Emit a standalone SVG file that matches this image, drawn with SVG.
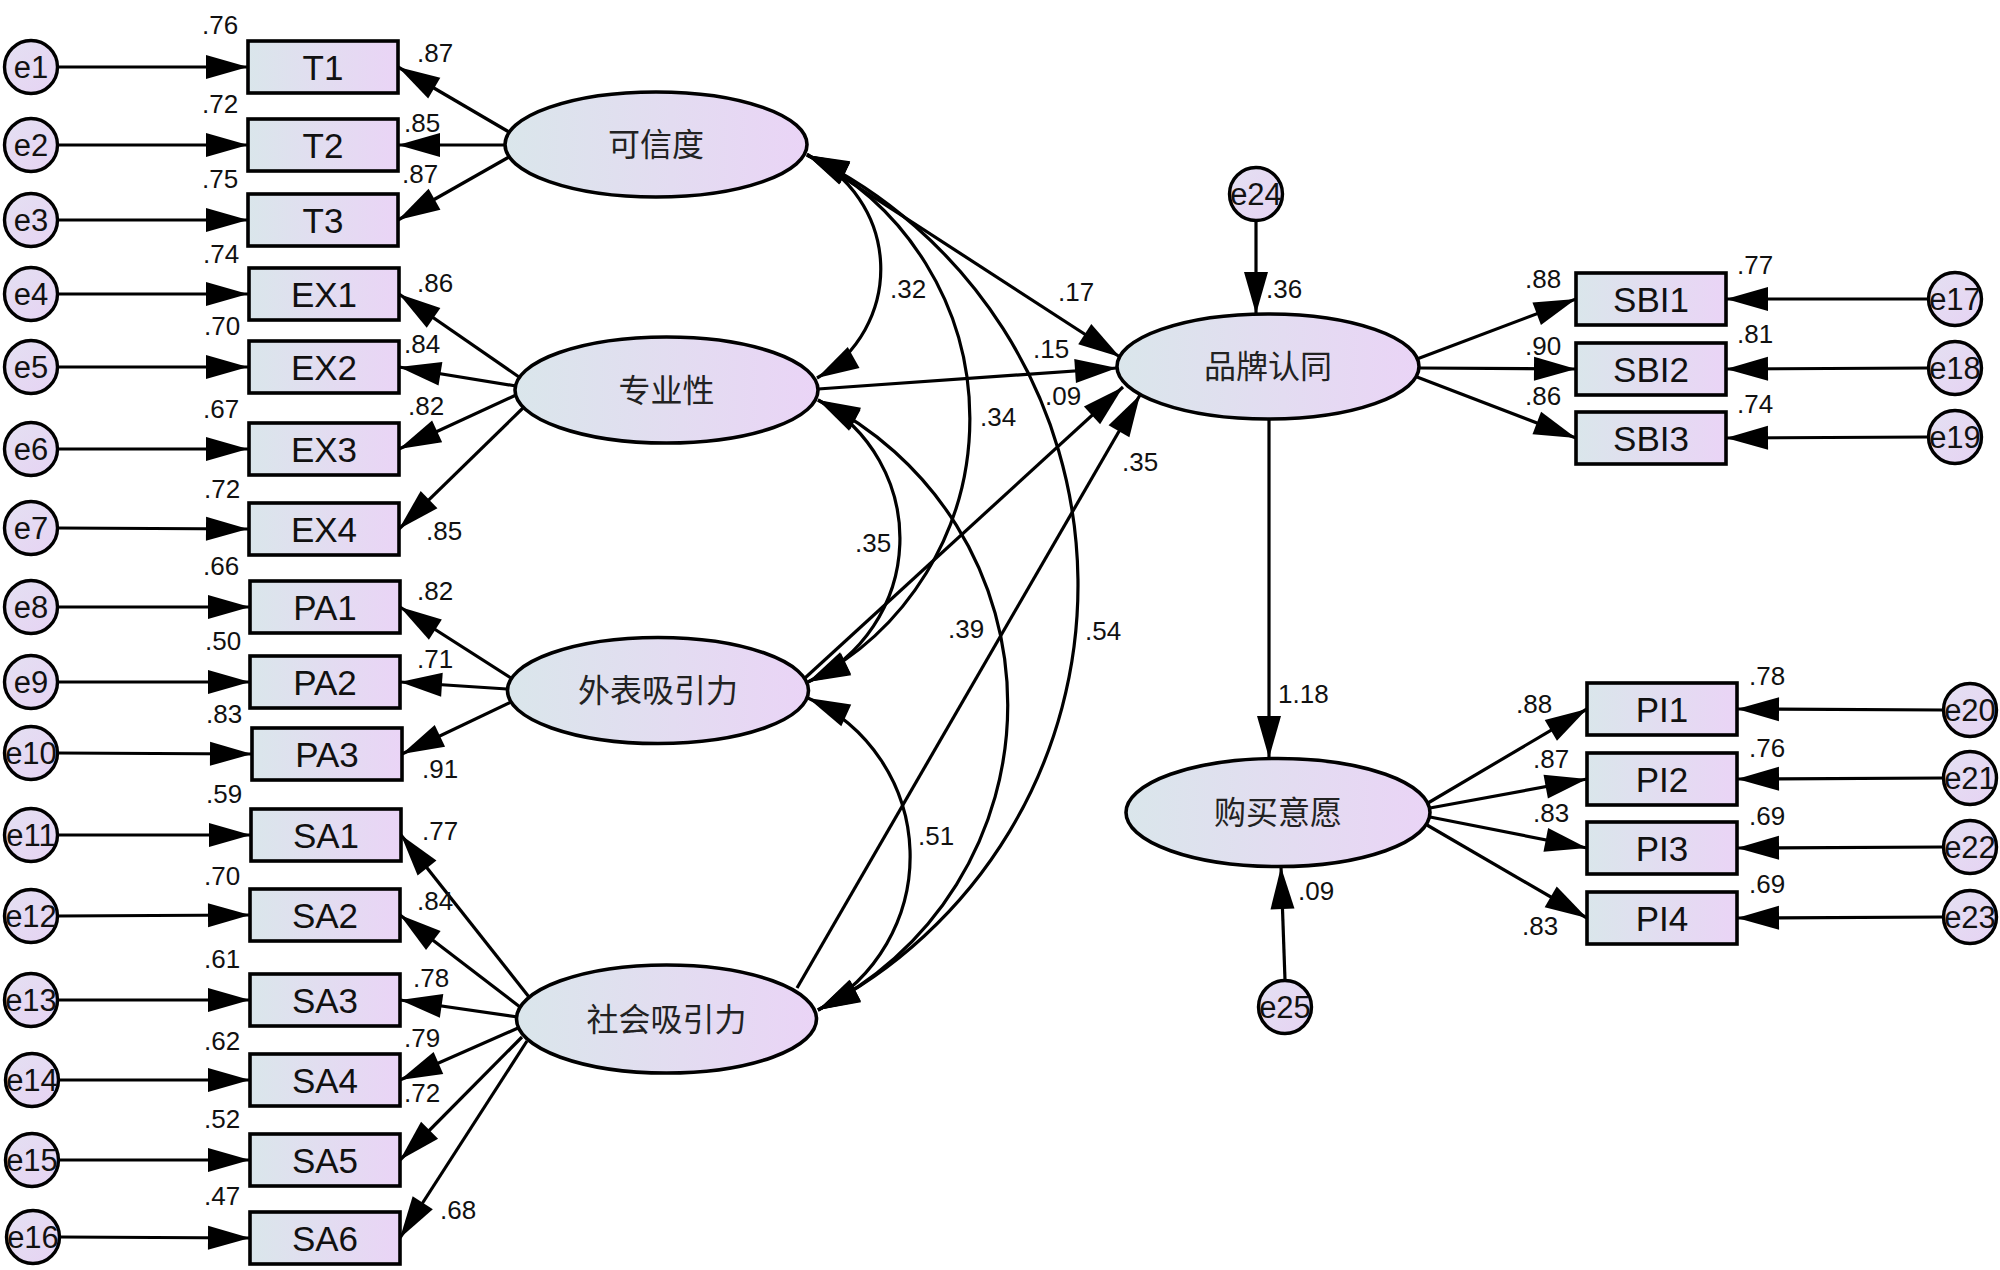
<svg xmlns="http://www.w3.org/2000/svg" width="2000" height="1270" viewBox="0 0 2000 1270">
<defs>
<linearGradient id="gFill" x1="0" y1="0" x2="1" y2="0">
<stop offset="0" stop-color="#dae6eb"/>
<stop offset="0.55" stop-color="#e3dcf1"/>
<stop offset="1" stop-color="#ead4f6"/>
</linearGradient>
<linearGradient id="gErr" x1="0" y1="0" x2="1" y2="1">
<stop offset="0" stop-color="#e4e0f2"/>
<stop offset="1" stop-color="#e6d3f3"/>
</linearGradient>
<marker id="ah" markerUnits="userSpaceOnUse" markerWidth="42" markerHeight="24" refX="42" refY="12" orient="auto" overflow="visible">
<path d="M0,0 L42,12 L0,24 Z" fill="#000"/>
</marker>
<marker id="ahs" markerUnits="userSpaceOnUse" markerWidth="42" markerHeight="24" refX="42" refY="12" orient="auto-start-reverse" overflow="visible">
<path d="M0,0 L42,12 L0,24 Z" fill="#000"/>
</marker>
</defs>
<style>
.c{fill:none;stroke:#000;stroke-width:3.2;marker-end:url(#ah);}
.cov{fill:none;stroke:#000;stroke-width:3.2;marker-start:url(#ahs);marker-end:url(#ahs);}
.box{fill:url(#gFill);stroke:#000;stroke-width:3.6;}
.lat{fill:url(#gFill);stroke:#000;stroke-width:3.6;}
.err{fill:url(#gErr);stroke:#000;stroke-width:3.4;}
.bt{font-family:"Liberation Sans",Arial,sans-serif;font-size:35px;fill:#111;text-anchor:middle;}
.et{font-family:"Liberation Sans",Arial,sans-serif;font-size:31px;fill:#111;text-anchor:middle;}
.lt{font-family:"Noto Sans CJK SC","Liberation Sans",sans-serif;font-size:32px;fill:#222;text-anchor:middle;}
.n{font-family:"Liberation Sans",Arial,sans-serif;font-size:26px;fill:#111;}
</style>
<rect x="0" y="0" width="2000" height="1270" fill="#fff"/>

<g id="connectors">
<line class="c" x1="57.5" y1="67" x2="248" y2="67"/>
<line class="c" x1="57.5" y1="145" x2="248" y2="145"/>
<line class="c" x1="57.5" y1="220" x2="248" y2="220"/>
<line class="c" x1="57.5" y1="294" x2="248" y2="294"/>
<line class="c" x1="57.5" y1="367" x2="248" y2="367"/>
<line class="c" x1="57.5" y1="449" x2="248" y2="449"/>
<line class="c" x1="57.5" y1="528" x2="248" y2="529"/>
<line class="c" x1="57.5" y1="607" x2="250" y2="607"/>
<line class="c" x1="57.5" y1="682" x2="250" y2="682"/>
<line class="c" x1="57.5" y1="753" x2="252" y2="754"/>
<line class="c" x1="57.5" y1="835" x2="251" y2="835"/>
<line class="c" x1="57.5" y1="916" x2="250" y2="915"/>
<line class="c" x1="57.5" y1="1000" x2="250" y2="1000"/>
<line class="c" x1="58.5" y1="1080" x2="250" y2="1080"/>
<line class="c" x1="58.5" y1="1160" x2="250" y2="1160"/>
<line class="c" x1="59.5" y1="1237" x2="250" y2="1238"/>
<line class="c" x1="509" y1="132" x2="398" y2="67"/>
<line class="c" x1="505" y1="145" x2="398" y2="145"/>
<line class="c" x1="509" y1="157" x2="398" y2="220"/>
<line class="c" x1="519" y1="377" x2="399" y2="294"/>
<line class="c" x1="516" y1="386" x2="399" y2="367"/>
<line class="c" x1="516" y1="395" x2="399" y2="449"/>
<line class="c" x1="524" y1="407" x2="399" y2="529"/>
<line class="c" x1="511" y1="678" x2="400" y2="607"/>
<line class="c" x1="507" y1="689" x2="400" y2="682"/>
<line class="c" x1="511" y1="702" x2="402" y2="754"/>
<line class="c" x1="529" y1="997" x2="401" y2="835"/>
<line class="c" x1="520" y1="1007" x2="400" y2="915"/>
<line class="c" x1="518" y1="1017" x2="400" y2="1000"/>
<line class="c" x1="518" y1="1028" x2="400" y2="1080"/>
<line class="c" x1="522" y1="1037" x2="400" y2="1160"/>
<line class="c" x1="527" y1="1041" x2="400" y2="1238"/>
<path class="cov" d="M807,155 A125,125 0 0 1 817,378"/>
<path class="cov" d="M807,155 A295,295 0 0 1 808,682"/>
<path class="cov" d="M807,155 A477,477 0 0 1 818,1010"/>
<path class="cov" d="M818,400 A158,158 0 0 1 808,682"/>
<path class="cov" d="M818,400 A340,340 0 0 1 818,1010"/>
<path class="cov" d="M808,698 A174,174 0 0 1 818,1010"/>
<line class="c" x1="807" y1="154" x2="1120" y2="357"/>
<line class="c" x1="818" y1="389" x2="1117" y2="368"/>
<line class="c" x1="805" y1="678" x2="1123" y2="387"/>
<line class="c" x1="797" y1="988" x2="1140" y2="395"/>
<line class="c" x1="1269" y1="419" x2="1269" y2="758"/>
<line class="c" x1="1256" y1="221" x2="1256" y2="314"/>
<line class="c" x1="1285" y1="980" x2="1281" y2="867"/>
<line class="c" x1="1417" y1="359" x2="1576" y2="299"/>
<line class="c" x1="1419" y1="368" x2="1576" y2="369"/>
<line class="c" x1="1417" y1="377" x2="1576" y2="438"/>
<line class="c" x1="1428" y1="803" x2="1587" y2="709"/>
<line class="c" x1="1430" y1="808" x2="1587" y2="779"/>
<line class="c" x1="1430" y1="817" x2="1587" y2="848"/>
<line class="c" x1="1427" y1="825" x2="1587" y2="918"/>
<line class="c" x1="1928.5" y1="299" x2="1726" y2="299"/>
<line class="c" x1="1928.5" y1="368" x2="1726" y2="369"/>
<line class="c" x1="1928.5" y1="437" x2="1726" y2="438"/>
<line class="c" x1="1943.5" y1="710" x2="1737" y2="709"/>
<line class="c" x1="1943.5" y1="778" x2="1737" y2="779"/>
<line class="c" x1="1943.5" y1="847" x2="1737" y2="848"/>
<line class="c" x1="1943.5" y1="917" x2="1737" y2="918"/>
</g>

<g id="labels">
<text class="n" x="202" y="34">.76</text>
<text class="n" x="202" y="113">.72</text>
<text class="n" x="202" y="188">.75</text>
<text class="n" x="203" y="263">.74</text>
<text class="n" x="204" y="335">.70</text>
<text class="n" x="203" y="418">.67</text>
<text class="n" x="204" y="498">.72</text>
<text class="n" x="203" y="575">.66</text>
<text class="n" x="205" y="650">.50</text>
<text class="n" x="206" y="723">.83</text>
<text class="n" x="206" y="803">.59</text>
<text class="n" x="204" y="885">.70</text>
<text class="n" x="204" y="968">.61</text>
<text class="n" x="204" y="1050">.62</text>
<text class="n" x="204" y="1128">.52</text>
<text class="n" x="204" y="1205">.47</text>
<text class="n" x="417" y="62">.87</text>
<text class="n" x="404" y="132">.85</text>
<text class="n" x="402" y="183">.87</text>
<text class="n" x="417" y="292">.86</text>
<text class="n" x="404" y="353">.84</text>
<text class="n" x="408" y="415">.82</text>
<text class="n" x="426" y="540">.85</text>
<text class="n" x="417" y="600">.82</text>
<text class="n" x="417" y="668">.71</text>
<text class="n" x="422" y="778">.91</text>
<text class="n" x="422" y="840">.77</text>
<text class="n" x="417" y="910">.84</text>
<text class="n" x="413" y="987">.78</text>
<text class="n" x="404" y="1047">.79</text>
<text class="n" x="404" y="1102">.72</text>
<text class="n" x="440" y="1219">.68</text>
<text class="n" x="890" y="298">.32</text>
<text class="n" x="1058" y="301">.17</text>
<text class="n" x="1033" y="358">.15</text>
<text class="n" x="1045" y="405">.09</text>
<text class="n" x="980" y="426">.34</text>
<text class="n" x="1122" y="471">.35</text>
<text class="n" x="855" y="552">.35</text>
<text class="n" x="948" y="638">.39</text>
<text class="n" x="1085" y="640">.54</text>
<text class="n" x="918" y="845">.51</text>
<text class="n" x="1266" y="298">.36</text>
<text class="n" x="1525" y="288">.88</text>
<text class="n" x="1525" y="355">.90</text>
<text class="n" x="1525" y="405">.86</text>
<text class="n" x="1737" y="274">.77</text>
<text class="n" x="1737" y="343">.81</text>
<text class="n" x="1737" y="413">.74</text>
<text class="n" x="1278" y="703">1.18</text>
<text class="n" x="1298" y="900">.09</text>
<text class="n" x="1516" y="713">.88</text>
<text class="n" x="1533" y="768">.87</text>
<text class="n" x="1533" y="822">.83</text>
<text class="n" x="1522" y="935">.83</text>
<text class="n" x="1749" y="685">.78</text>
<text class="n" x="1749" y="757">.76</text>
<text class="n" x="1749" y="825">.69</text>
<text class="n" x="1749" y="893">.69</text>
</g>

<g id="e1"><circle class="err" cx="31" cy="67" r="26.5"/><text class="et" x="31" y="78">e1</text></g>
<g id="e2"><circle class="err" cx="31" cy="145" r="26.5"/><text class="et" x="31" y="156">e2</text></g>
<g id="e3"><circle class="err" cx="31" cy="220" r="26.5"/><text class="et" x="31" y="231">e3</text></g>
<g id="e4"><circle class="err" cx="31" cy="294" r="26.5"/><text class="et" x="31" y="305">e4</text></g>
<g id="e5"><circle class="err" cx="31" cy="367" r="26.5"/><text class="et" x="31" y="378">e5</text></g>
<g id="e6"><circle class="err" cx="31" cy="449" r="26.5"/><text class="et" x="31" y="460">e6</text></g>
<g id="e7"><circle class="err" cx="31" cy="528" r="26.5"/><text class="et" x="31" y="539">e7</text></g>
<g id="e8"><circle class="err" cx="31" cy="607" r="26.5"/><text class="et" x="31" y="618">e8</text></g>
<g id="e9"><circle class="err" cx="31" cy="682" r="26.5"/><text class="et" x="31" y="693">e9</text></g>
<g id="e10"><circle class="err" cx="31" cy="753" r="26.5"/><text class="et" x="31" y="764">e10</text></g>
<g id="e11"><circle class="err" cx="31" cy="835" r="26.5"/><text class="et" x="31" y="846">e11</text></g>
<g id="e12"><circle class="err" cx="31" cy="916" r="26.5"/><text class="et" x="31" y="927">e12</text></g>
<g id="e13"><circle class="err" cx="31" cy="1000" r="26.5"/><text class="et" x="31" y="1011">e13</text></g>
<g id="e14"><circle class="err" cx="32" cy="1080" r="26.5"/><text class="et" x="32" y="1091">e14</text></g>
<g id="e15"><circle class="err" cx="32" cy="1160" r="26.5"/><text class="et" x="32" y="1171">e15</text></g>
<g id="e16"><circle class="err" cx="33" cy="1237" r="26.5"/><text class="et" x="33" y="1248">e16</text></g>
<g id="e17"><circle class="err" cx="1955" cy="299" r="26.5"/><text class="et" x="1955" y="310">e17</text></g>
<g id="e18"><circle class="err" cx="1955" cy="368" r="26.5"/><text class="et" x="1955" y="379">e18</text></g>
<g id="e19"><circle class="err" cx="1955" cy="437" r="26.5"/><text class="et" x="1955" y="448">e19</text></g>
<g id="e20"><circle class="err" cx="1970" cy="710" r="26.5"/><text class="et" x="1970" y="721">e20</text></g>
<g id="e21"><circle class="err" cx="1970" cy="778" r="26.5"/><text class="et" x="1970" y="789">e21</text></g>
<g id="e22"><circle class="err" cx="1970" cy="847" r="26.5"/><text class="et" x="1970" y="858">e22</text></g>
<g id="e23"><circle class="err" cx="1970" cy="917" r="26.5"/><text class="et" x="1970" y="928">e23</text></g>
<g id="e24"><circle class="err" cx="1256" cy="194" r="26.5"/><text class="et" x="1256" y="205">e24</text></g>
<g id="e25"><circle class="err" cx="1285" cy="1007" r="26.5"/><text class="et" x="1285" y="1018">e25</text></g>

<g id="T1"><rect class="box" x="248" y="41" width="150" height="52"/><text class="bt" x="323" y="79.5">T1</text></g>
<g id="T2"><rect class="box" x="248" y="119" width="150" height="52"/><text class="bt" x="323" y="157.5">T2</text></g>
<g id="T3"><rect class="box" x="248" y="194" width="150" height="52"/><text class="bt" x="323" y="232.5">T3</text></g>
<g id="EX1"><rect class="box" x="249" y="268" width="150" height="52"/><text class="bt" x="324" y="306.5">EX1</text></g>
<g id="EX2"><rect class="box" x="249" y="341" width="150" height="52"/><text class="bt" x="324" y="379.5">EX2</text></g>
<g id="EX3"><rect class="box" x="249" y="423" width="150" height="52"/><text class="bt" x="324" y="461.5">EX3</text></g>
<g id="EX4"><rect class="box" x="249" y="503" width="150" height="52"/><text class="bt" x="324" y="541.5">EX4</text></g>
<g id="PA1"><rect class="box" x="250" y="581" width="150" height="52"/><text class="bt" x="325" y="619.5">PA1</text></g>
<g id="PA2"><rect class="box" x="250" y="656" width="150" height="52"/><text class="bt" x="325" y="694.5">PA2</text></g>
<g id="PA3"><rect class="box" x="252" y="728" width="150" height="52"/><text class="bt" x="327" y="766.5">PA3</text></g>
<g id="SA1"><rect class="box" x="251" y="809" width="150" height="52"/><text class="bt" x="326" y="847.5">SA1</text></g>
<g id="SA2"><rect class="box" x="250" y="889" width="150" height="52"/><text class="bt" x="325" y="927.5">SA2</text></g>
<g id="SA3"><rect class="box" x="250" y="974" width="150" height="52"/><text class="bt" x="325" y="1012.5">SA3</text></g>
<g id="SA4"><rect class="box" x="250" y="1054" width="150" height="52"/><text class="bt" x="325" y="1092.5">SA4</text></g>
<g id="SA5"><rect class="box" x="250" y="1134" width="150" height="52"/><text class="bt" x="325" y="1172.5">SA5</text></g>
<g id="SA6"><rect class="box" x="250" y="1212" width="150" height="52"/><text class="bt" x="325" y="1250.5">SA6</text></g>
<g id="SBI1"><rect class="box" x="1576" y="273" width="150" height="52"/><text class="bt" x="1651" y="311.5">SBI1</text></g>
<g id="SBI2"><rect class="box" x="1576" y="343" width="150" height="52"/><text class="bt" x="1651" y="381.5">SBI2</text></g>
<g id="SBI3"><rect class="box" x="1576" y="412" width="150" height="52"/><text class="bt" x="1651" y="450.5">SBI3</text></g>
<g id="PI1"><rect class="box" x="1587" y="683" width="150" height="52"/><text class="bt" x="1662" y="721.5">PI1</text></g>
<g id="PI2"><rect class="box" x="1587" y="753" width="150" height="52"/><text class="bt" x="1662" y="791.5">PI2</text></g>
<g id="PI3"><rect class="box" x="1587" y="822" width="150" height="52"/><text class="bt" x="1662" y="860.5">PI3</text></g>
<g id="PI4"><rect class="box" x="1587" y="892" width="150" height="52"/><text class="bt" x="1662" y="930.5">PI4</text></g>

<g id="trust"><ellipse class="lat" cx="656" cy="144.5" rx="151" ry="52.5"/><text class="lt" x="656" y="156">可信度</text></g>
<g id="expertise"><ellipse class="lat" cx="666.5" cy="390" rx="151.5" ry="53"/><text class="lt" x="666.5" y="401.5">专业性</text></g>
<g id="physical"><ellipse class="lat" cx="658" cy="690.5" rx="150.5" ry="53"/><text class="lt" x="658" y="702">外表吸引力</text></g>
<g id="social"><ellipse class="lat" cx="666.5" cy="1019" rx="150" ry="54"/><text class="lt" x="666.5" y="1030.5">社会吸引力</text></g>
<g id="brand"><ellipse class="lat" cx="1268" cy="366.5" rx="151" ry="52.5"/><text class="lt" x="1268" y="378">品牌认同</text></g>
<g id="purchase"><ellipse class="lat" cx="1278" cy="812.5" rx="152" ry="54"/><text class="lt" x="1278" y="824">购买意愿</text></g>
</svg>
